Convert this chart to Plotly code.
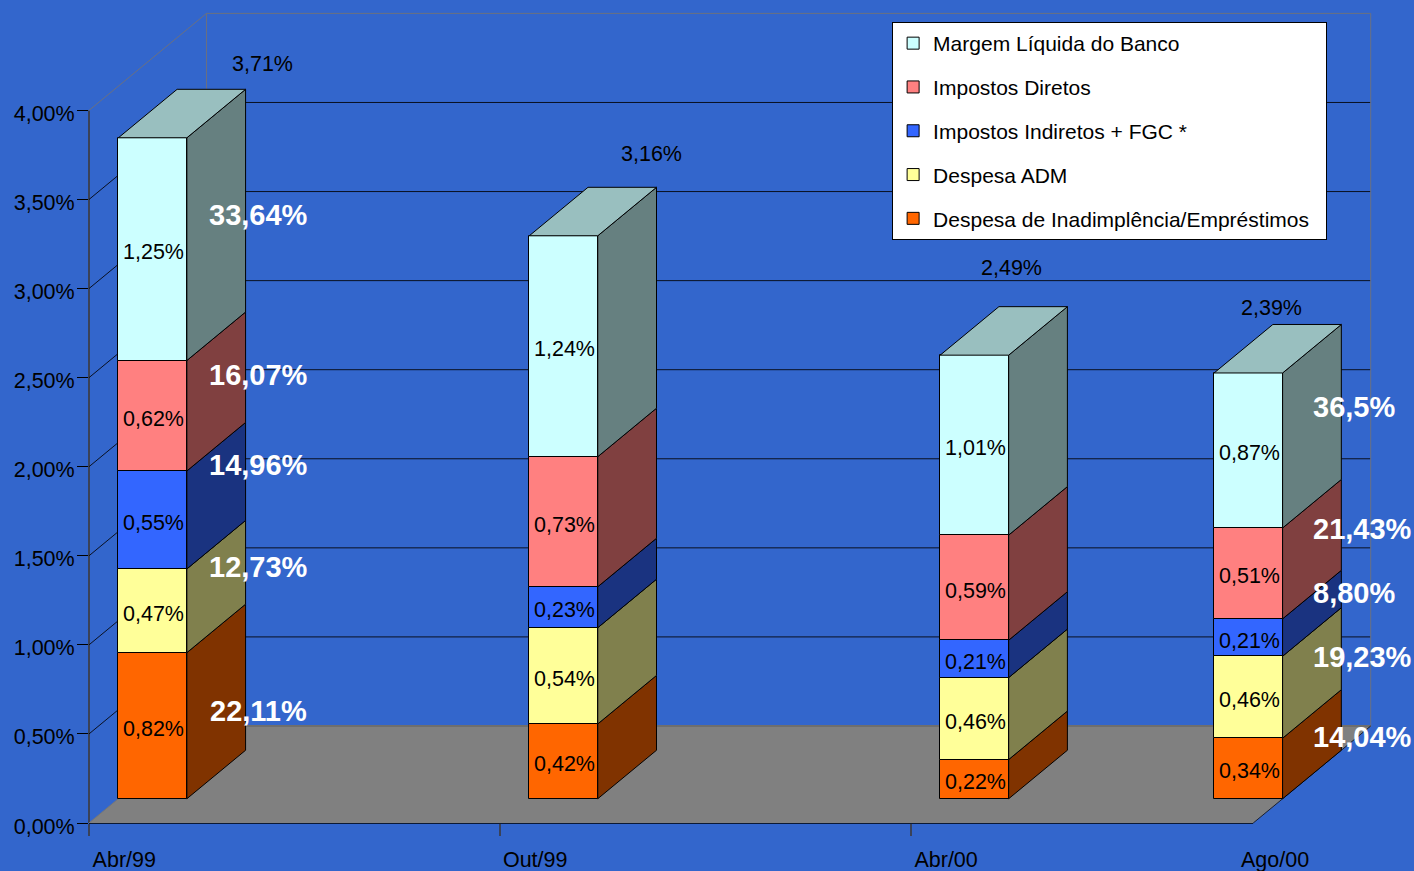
import plotly.graph_objects as go
import numpy as np

# Periods and their position on the monthly time axis
periods = ["Abr/99", "Out/99", "Abr/00", "Ago/00"]
months = [0, 6, 12, 16]
month_span = 17

# Stacked components, in percent (bottom to top)
inadimplencia = [0.82, 0.42, 0.22, 0.34]
despesa_adm = [0.47, 0.54, 0.46, 0.46]
impostos_indiretos = [0.55, 0.23, 0.21, 0.21]
impostos_diretos = [0.62, 0.73, 0.59, 0.51]
margem_liquida = [1.25, 1.24, 1.01, 0.87]

# Totals printed above each column
total_labels = ["3,71%", "3,16%", "2,49%", "2,39%"]

# Share of the total for the first and last periods
shares_first = ["22,11%", "12,73%", "14,96%", "16,07%", "33,64%"]
shares_last = ["14,04%", "19,23%", "8,80%", "21,43%", "36,5%"]

# The trailing no-break spaces widen the legend box a little
series_names = [
    "Despesa de Inadimplência/Empréstimos\u00a0\u00a0",
    "Despesa ADM",
    "Impostos Indiretos + FGC *",
    "Impostos Diretos",
    "Margem Líquida do Banco",
]
series_values = [inadimplencia, despesa_adm, impostos_indiretos, impostos_diretos, margem_liquida]
series_colors = ["#FF6600", "#FFFF99", "#3366FF", "#FF8080", "#CCFFFF"]
side_colors = ["#803300", "#80804D", "#1A3380", "#804040", "#668080"]
top_color = "#99BFBF"

y_ticks = [0, 0.5, 1, 1.5, 2, 2.5, 3, 3.5, 4]
y_tick_text = ["0,00%", "0,50%", "1,00%", "1,50%", "2,00%", "2,50%", "3,00%", "3,50%", "4,00%"]

FONT = "Liberation Sans, Arial, sans-serif"
WIDTH, HEIGHT = 1414, 871
LEFT, ZERO_Y = 88.7, 823.0
PX_PER_MONTH = 68.5
PX_PER_UNIT = 178.15
X_MAX = (WIDTH - LEFT) / PX_PER_MONTH
Y_MAX = ZERO_Y / PX_PER_UNIT

# Oblique projection: depth 0 is the front plane, depth 1 the back wall
DEPTH_X = 117.5 / PX_PER_MONTH
DEPTH_Y = 97.0 / PX_PER_UNIT
BAR_FRONT, BAR_BACK = 0.25, 0.75


def project(month, value, depth):
    return month + depth * DEPTH_X, value + depth * DEPTH_Y


def at(px, py):
    """Page position expressed in axis units, for free-standing labels."""
    return (px - LEFT) / PX_PER_MONTH, (ZERO_Y - py) / PX_PER_UNIT


def poly_path(points):
    return "M" + " L".join(f"{x:.4f},{y:.4f}" for x, y in points) + " Z"


def seg(p, q, color, width=1):
    return dict(type="line", layer="below", xref="x", yref="y",
                x0=p[0], y0=p[1], x1=q[0], y1=q[1], line=dict(color=color, width=width))


def axis_seg(p, q, color, width):
    # Paper-referenced so the stroke is not clipped at the plot edge
    return dict(type="line", layer="below", xref="paper", yref="paper",
                x0=p[0] / X_MAX, y0=p[1] / Y_MAX, x1=q[0] / X_MAX, y1=q[1] / Y_MAX,
                line=dict(color=color, width=width))


shapes = []
# Floor
shapes.append(dict(
    type="path", layer="below", xref="x", yref="y",
    path=poly_path([project(0, 0, 0), project(month_span, 0, 0),
                    project(month_span, 0, 1), project(0, 0, 1)]),
    fillcolor="#808080", line=dict(width=0),
))
# Gridlines on the side and back walls
grid_color = "#0a1020"
for v in y_ticks[1:-1]:
    shapes.append(seg(project(0, v, 0), project(0, v, 1), grid_color))
    shapes.append(seg(project(0, v, 1), project(month_span, v, 1), grid_color))
# Wall outline
wall_gray = "#6b7080"
shapes.append(seg(project(0, 4, 0), project(0, 4, 1), wall_gray))
shapes.append(seg(project(0, 4, 1), project(month_span, 4, 1), wall_gray))
shapes.append(seg(project(0, 0, 1), project(0, 4, 1), wall_gray))
shapes.append(seg(project(month_span, 0, 1), project(month_span, 4, 1), wall_gray))
shapes.append(seg(project(0, 0, 0), project(0, 0, 1), "#777777"))
shapes.append(seg(project(0, 0, 1), project(month_span, 0, 1), "#6e6e6e", 2))
shapes.append(seg(project(month_span, 0, 0), project(month_span, 0, 1), "#1a2030"))
# Front axis lines
shapes.append(axis_seg(project(0, 0, 0), project(month_span, 0, 0), "#000000", 1.5))
shapes.append(axis_seg(project(0, 0, 0), project(0, 4, 0), "#3a4258", 2))

fig = go.Figure()

annotations = []

# Front faces: stacked columns sitting on the floor, a quarter of the way back
front_x = [project(m + 0.5, 0, BAR_FRONT)[0] for m in months]
lift = project(0, 0, BAR_FRONT)[1]
stack = np.zeros(len(months))
for rank, (name, vals, col) in enumerate(zip(series_names, series_values, series_colors)):
    vals = np.array(vals)
    fig.add_trace(go.Bar(
        x=front_x, y=vals, base=stack + lift, width=1.0, name=name, legendgroup=name,
        legendrank=1000 - rank,
        marker=dict(color=col, line=dict(color="#000000", width=1)),
        hoverinfo="skip",
    ))
    # Value printed on each segment, sitting slightly under its centre
    for xc, lo, v in zip(front_x, stack, vals):
        annotations.append(dict(
            x=xc, y=lo + lift + v / 2, xref="x", yref="y", xshift=1, yshift=-3,
            text=f"{v:.2f}%".replace(".", ","), showarrow=False,
            xanchor="center", yanchor="middle",
            font=dict(family=FONT, size=21.5, color="#000000"),
        ))
    stack = stack + vals

# Right-hand faces of each stacked segment
stack = np.zeros(len(months))
for vals, col in zip(series_values, side_colors):
    for i, m in enumerate(months):
        lo, hi = stack[i], stack[i] + vals[i]
        corners = [project(m + 1, lo, BAR_FRONT), project(m + 1, lo, BAR_BACK),
                   project(m + 1, hi, BAR_BACK), project(m + 1, hi, BAR_FRONT),
                   project(m + 1, lo, BAR_FRONT)]
        fig.add_trace(go.Scatter(
            x=[c[0] for c in corners], y=[c[1] for c in corners],
            mode="lines", fill="toself", fillcolor=col,
            line=dict(color="#000000", width=1), showlegend=False, hoverinfo="skip",
        ))
    stack = stack + np.array(vals)

# Top faces
for i, m in enumerate(months):
    t = stack[i]
    corners = [project(m, t, BAR_FRONT), project(m + 1, t, BAR_FRONT),
               project(m + 1, t, BAR_BACK), project(m, t, BAR_BACK),
               project(m, t, BAR_FRONT)]
    fig.add_trace(go.Scatter(
        x=[c[0] for c in corners], y=[c[1] for c in corners],
        mode="lines", fill="toself", fillcolor=top_color,
        line=dict(color="#000000", width=1), showlegend=False, hoverinfo="skip",
    ))


def label(text, px, py, size=21.5, color="#000000", bold=False):
    x, y = at(px, py)
    annotations.append(dict(
        x=x, y=y, xref="x", yref="y", text=f"<b>{text}</b>" if bold else text,
        showarrow=False, xanchor="center", yanchor="middle",
        font=dict(family=FONT, size=size, color=color),
    ))


# Totals above the columns
for text, px, py in zip(total_labels, [262, 651, 1011, 1271], [64, 154, 268, 308]):
    label(text, px, py)

# Share labels next to the first and last columns
for text, py in zip(shares_first, [711, 567, 465, 375, 215]):
    label(text, 258, py, size=29, color="#FFFFFF", bold=True)
for text, px, py in zip(shares_last, [1362, 1362, 1354, 1362, 1354], [737, 657, 593, 529, 407]):
    label(text, px, py, size=29, color="#FFFFFF", bold=True)

fig.update_layout(
    width=WIDTH, height=HEIGHT, autosize=False,
    margin=dict(l=LEFT, r=0, t=0, b=HEIGHT - ZERO_Y, pad=0, autoexpand=False),
    paper_bgcolor="#3366CC", plot_bgcolor="#3366CC",
    barmode="overlay", bargap=0,
    font=dict(family=FONT, size=21.5, color="#000000"),
    shapes=shapes, annotations=annotations,
    showlegend=True,
    legend=dict(
        x=(892 - LEFT) / (WIDTH - LEFT), y=1 - 22 / ZERO_Y,
        xanchor="left", yanchor="top",
        traceorder="grouped", tracegroupgap=13.5,
        bgcolor="#FFFFFF", bordercolor="#000000", borderwidth=1,
        font=dict(family=FONT, size=21, color="#000000"),
        itemclick=False, itemdoubleclick=False,
    ),
    xaxis=dict(
        range=[0, X_MAX], showgrid=False, zeroline=False, showline=False,
        tickmode="array",
        tickvals=[at(124, 0)[0], at(535, 0)[0], at(946, 0)[0], at(1275, 0)[0]],
        ticktext=periods, ticks="", ticklabelstandoff=21,
        tickfont=dict(family=FONT, size=21.5, color="#000000"),
        minor=dict(tickmode="array", tickvals=months[:3], ticks="outside", ticklen=12,
                   tickcolor="#3a4258", tickwidth=1.5, showgrid=False),
    ),
    yaxis=dict(
        range=[0, Y_MAX], showgrid=False, zeroline=False, showline=False,
        tickmode="array", tickvals=y_ticks, ticktext=y_tick_text,
        ticks="outside", ticklen=11, tickcolor="#000000", tickwidth=1,
        ticklabelstandoff=-2, ticklabelshift=3,
        tickfont=dict(family=FONT, size=21.5, color="#000000"),
    ),
)

fig.write_html("out.html", config=dict(displayModeBar=False))
